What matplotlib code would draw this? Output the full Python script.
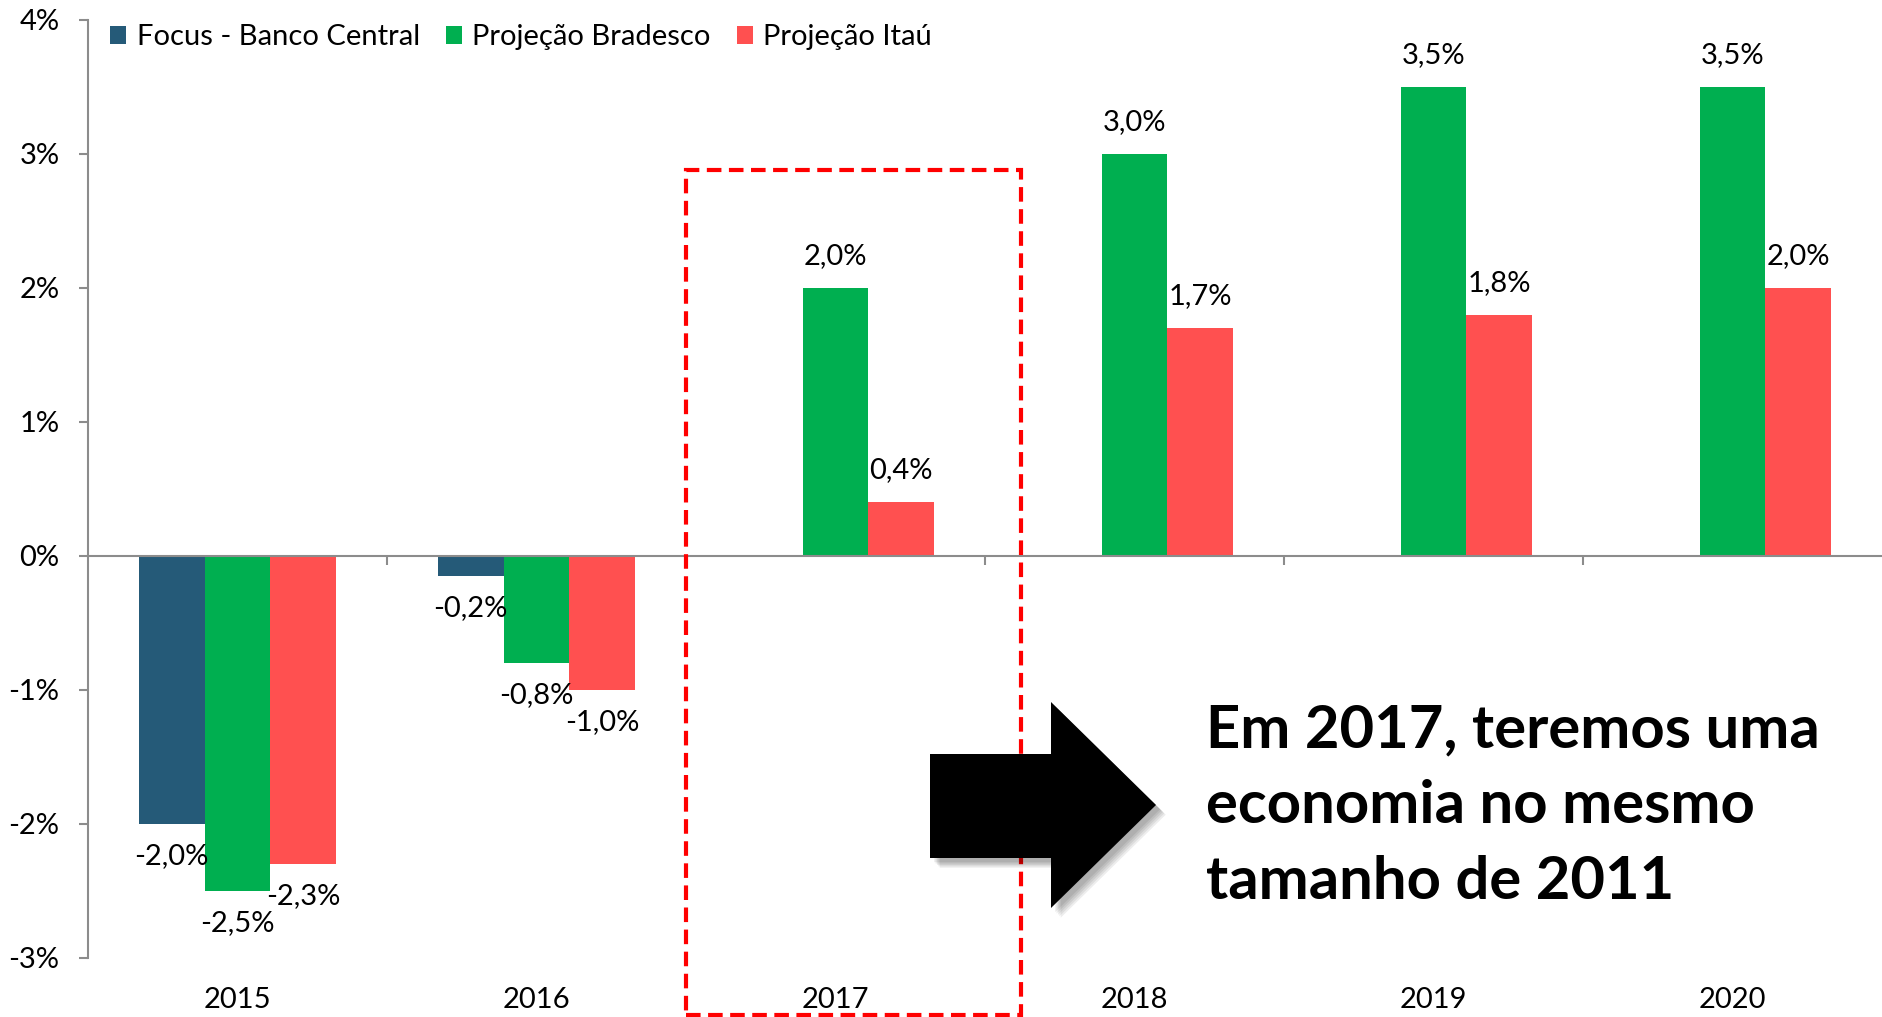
import numpy as np
import matplotlib
matplotlib.use('Agg')
import matplotlib.pyplot as plt
import matplotlib.patheffects as pe
from matplotlib.patches import Polygon, Rectangle
from matplotlib.ticker import FuncFormatter, FixedLocator

plt.rcParams['font.family'] = ['Lato', 'DejaVu Sans']

years = ['2015', '2016', '2017', '2018', '2019', '2020']
focus = [-2.0, -0.15, np.nan, np.nan, np.nan, np.nan]
bradesco = [-2.5, -0.8, 2.0, 3.0, 3.5, 3.5]
itau = [-2.3, -1.0, 0.4, 1.7, 1.8, 2.0]
focus_lbl = ['-2,0%', '-0,2%', '', '', '', '']
bradesco_lbl = ['-2,5%', '-0,8%', '2,0%', '3,0%', '3,5%', '3,5%']
itau_lbl = ['-2,3%', '-1,0%', '0,4%', '1,7%', '1,8%', '2,0%']

W, H = 1882, 1017
fig = plt.figure(figsize=(W / 100, H / 100), dpi=100)
ax = fig.add_axes([88 / W, 59 / H, 1 - 88 / W, (997 - 59) / H])

fs = 21
x = np.arange(len(years))
w = 0.22
series = [
    (focus, focus_lbl, '#255A78', 'Focus - Banco Central', -w),
    (bradesco, bradesco_lbl, '#00AF50', 'Projeção Bradesco', 0),
    (itau, itau_lbl, '#FF5050', 'Projeção Itaú', w),
]
for vals, lbls, col, name, off in series:
    ax.bar(x + off, vals, w, color=col, label=name)
    for xi, v, t in zip(x + off, vals, lbls):
        if np.isnan(v):
            continue
        ax.annotate(t, (xi, v), xytext=(0, 23 if v > 0 else -23),
                    textcoords='offset points', ha='center', va='center',
                    fontsize=fs)

ax.set_xlim(-0.5, len(years) - 0.5)
ax.set_ylim(-3, 4)
ax.axhline(0, color='#8c8c8c', lw=1.5, zorder=3)
# little category separators on the zero line
ax.vlines(x[:-1] + 0.5, 0, -0.07, color='#8c8c8c', lw=1.5, zorder=3)

for s in ['top', 'right', 'bottom']:
    ax.spines[s].set_visible(False)
ax.spines['left'].set_color('#8c8c8c')
ax.spines['left'].set_linewidth(1.5)
ax.yaxis.set_major_locator(FixedLocator(range(-3, 5)))
ax.yaxis.set_major_formatter(FuncFormatter(lambda v, p: f'{v:.0f}%'))
ax.tick_params(axis='y', length=6.5, width=1.5, color='#8c8c8c', pad=14, labelsize=fs)
ax.set_xticks([])
for xi, yr in zip(x, years):
    ax.text(xi, -0.045, yr, transform=ax.get_xaxis_transform(),
            ha='center', va='center', fontsize=fs)

ax.legend(loc='upper left', bbox_to_anchor=(0.006, 1.008), ncol=3, frameon=False,
          fontsize=fs, handlelength=0.55, handleheight=0.55, handletextpad=0.35,
          columnspacing=0.9, borderaxespad=0)

# dashed box around 2017
fig.patches.append(Rectangle((686 / W, 1 - 1015 / H), (1021 - 686) / W, (1015 - 170) / H,
                             transform=fig.transFigure, fill=False, ec='#FF0000',
                             lw=3, ls=(0, (3.5, 1.8)), zorder=5))

# block arrow with a soft shadow
pts = [(930, 754), (1051, 754), (1051, 702), (1156, 805), (1051, 908), (1051, 858), (930, 858)]
shadow = [pe.SimplePatchShadow(offset=(d, -d), shadow_rgbFace='#000000', alpha=0.07)
          for d in (7, 6, 5, 4, 3)]
arrow = Polygon([(px / W, 1 - py / H) for px, py in pts], closed=True,
                transform=fig.transFigure, fc='black', ec='none', zorder=6,
                path_effects=shadow + [pe.Normal()])
fig.patches.append(arrow)

fig.text(1206 / W, 1 - 806 / H, 'Em 2017, teremos uma\neconomia no mesmo\ntamanho de 2011',
         ha='left', va='center', fontsize=43, fontweight='bold', linespacing=1.5)

fig.savefig('out.png', dpi=100)
